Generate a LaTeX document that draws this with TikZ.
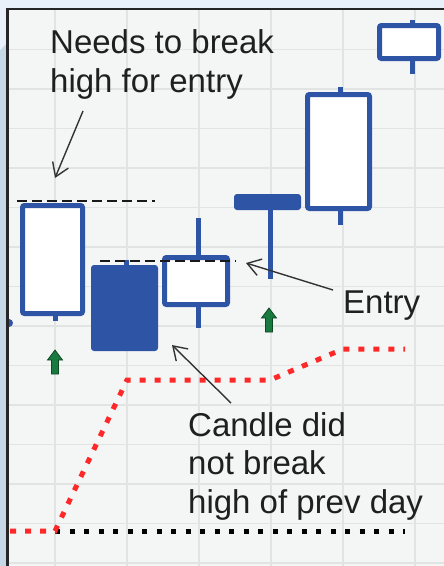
\documentclass[tikz,border=0pt]{standalone}
\usepackage{fontspec}
\setmainfont{Liberation Sans}
\usetikzlibrary{arrows.meta}
\definecolor{candleblue}{RGB}{46,84,165}
\definecolor{paper}{RGB}{244,245,245}
\definecolor{gridgray}{RGB}{226,228,228}
\definecolor{skytop}{RGB}{232,240,249}
\definecolor{sideblue}{RGB}{198,215,230}
\definecolor{stopred}{RGB}{255,40,40}
\definecolor{upgreen}{RGB}{24,122,62}
\begin{document}
\begin{tikzpicture}[x=1pt,y=-1pt,
  body/.style={draw=candleblue,line width=5pt,rounded corners=2pt,fill=white},
  solidbody/.style={fill=candleblue,rounded corners=3pt},
  wick/.style={draw=candleblue,line width=5pt},
  level/.style={black!90,line width=1.3pt,dash pattern=on 10pt off 5pt},
  note/.style={font=\fontsize{33}{38.5}\selectfont,align=left,inner sep=0pt,anchor=base west,text=black!88},
  pointer/.style={black!80,line width=1.4pt,-{Straight Barb[length=13pt,width=17pt]}},
  greenup/.pic={\filldraw[fill=upgreen,draw=upgreen!60!black,line width=0.8pt]
    (0,0) -- (7.5,10) -- (3.5,10) -- (3.5,24) -- (-3.5,24) -- (-3.5,10) -- (-7.5,10) -- cycle;}]
\useasboundingbox (0,0) rectangle (444,566);
% background and grid
\fill[skytop] (0,0) rectangle (444,9);
\fill[sideblue] (0,0) rectangle (8,566);
\fill[skytop] (0,0) -- (8,0) -- (8,42) -- (0,50) -- cycle;
\fill[paper] (8,9) rectangle (444,566);
\foreach \x in {55,127,...,415}
  \draw[gridgray,line width=1.5pt] (\x,9) -- (\x,566);
\foreach \y in {49.5,89,...,564}
  \draw[gridgray,line width=1.5pt] (8,\y) -- (444,\y);
\draw[black!85,line width=2.2pt] (444,9) -- (7.5,9) -- (7.5,566);
% stop lines
\draw[black,line width=5pt,dash pattern=on 5pt off 9.5pt] (55,531) -- (405,531);
\draw[stopred,line width=5pt,dash pattern=on 6pt off 9pt]
  (10,531) -- (55,531) -- (127,380) -- (270,380) -- (343,349) -- (405,349);
% candles
\fill[candleblue] (9,327) arc[start angle=90,end angle=-90,radius=4];
\draw[wick] (55,313) -- (55,321);
\draw[body] (22.5,205.5) rectangle (82.5,313.5);
\draw[wick] (126,260) -- (126,268);
\fill[solidbody] (91,265) rectangle (158,351);
\draw[wick] (198,218) -- (198,328);
\draw[body] (164.5,257.5) rectangle (227.5,304.5);
\draw[wick] (270,205) -- (270,279);
\fill[solidbody] (234,194) rectangle (301,210);
\draw[wick] (340,87) -- (340,225);
\draw[body] (307.5,94.5) rectangle (369.5,208.5);
\draw[wick] (412,20) -- (412,74);
\draw[body] (379.5,25.5) rectangle (438.5,58.5);
% break levels
\draw[level] (17,201) -- (155,201);
\draw[level] (100,261) -- (236,261);
% entry marks
\pic at (55,350) {greenup};
\pic at (269,308) {greenup};
% labels
\node[note] (needs) at (50,92) {Needs to break\\high for entry};
\node[note] (entry) at (343,313) {Entry};
\node[note] (nobreak) at (188,513) {Candle did\\not break\\high of prev day};
\coordinate (needstail) at (83,111);
\coordinate (needstip) at (55,178);
\coordinate (entrytail) at (333,290);
\coordinate (entrytip) at (246,263);
\coordinate (nobreaktail) at (231,403);
\coordinate (nobreaktip) at (172,345);
\draw[pointer] (needstail) -- (needstip);
\draw[pointer] (entrytail) -- (entrytip);
\draw[pointer] (nobreaktail) -- (nobreaktip);
\end{tikzpicture}
\end{document}
